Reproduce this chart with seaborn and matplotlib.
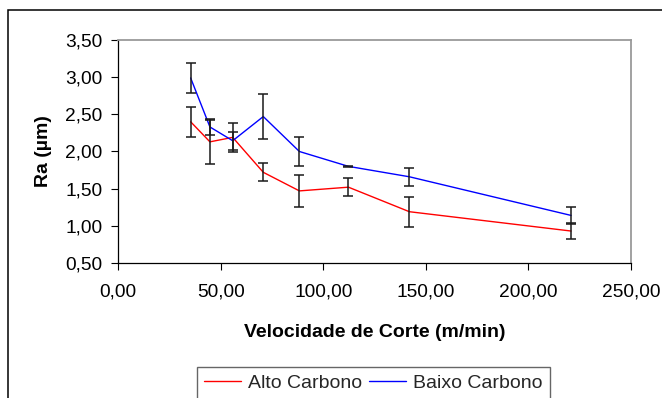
import matplotlib
matplotlib.use("Agg")
import matplotlib.pyplot as plt
from matplotlib.patches import Rectangle
import pandas as pd
import seaborn as sns

# Cutting speed (m/min)
velocidade = [35.4, 44.8, 55.9, 70.8, 88.4, 112.3, 142.0, 220.8]

# Mean roughness Ra (µm) and error half-widths
ra_alto = [2.40, 2.13, 2.19, 1.72, 1.47, 1.52, 1.19, 0.93]
err_alto = [0.20, 0.30, 0.20, 0.12, 0.22, 0.12, 0.20, 0.11]
ra_baixo = [2.99, 2.33, 2.145, 2.47, 2.00, 1.80, 1.66, 1.14]
err_baixo = [0.20, 0.11, 0.12, 0.30, 0.20, 0.01, 0.12, 0.12]

series_names = ["Alto Carbono", "Baixo Carbono"]
series_colors = ["#ff0000", "#0000ff"]

x_ticks = [0, 50, 100, 150, 200, 250]
x_tick_labels = ["0,00", "50,00", "100,00", "150,00", "200,00", "250,00"]
y_ticks = [0.5, 1.0, 1.5, 2.0, 2.5, 3.0, 3.5]
y_tick_labels = ["0,50", "1,00", "1,50", "2,00", "2,50", "3,00", "3,50"]

sns.set_theme(style="white")
plt.rcParams["font.family"] = ["Liberation Sans", "DejaVu Sans"]

df = pd.concat([
    pd.DataFrame({"v": velocidade, "ra": ra_alto, "err": err_alto, "serie": series_names[0]}),
    pd.DataFrame({"v": velocidade, "ra": ra_baixo, "err": err_baixo, "serie": series_names[1]}),
], ignore_index=True)

W, H = 662, 398
fig = plt.figure(figsize=(W / 100, H / 100), dpi=100)
ax = fig.add_axes([118 / W, 1 - 263 / H, (631 - 118) / W, (263 - 40) / H])

sns.lineplot(data=df, x="v", y="ra", hue="serie", palette=series_colors,
             hue_order=series_names, linewidth=1.0, ax=ax, legend=False,
             sort=False, estimator=None)

for name in series_names:
    sub = df[df["serie"] == name]
    ax.errorbar(sub["v"], sub["ra"], yerr=sub["err"], fmt="none",
                ecolor="#1a1a1a", elinewidth=1.1, capsize=3.9, capthick=1.1,
                zorder=5)

ax.set_xlim(0, 250)
ax.set_ylim(0.5, 3.5)
ax.set_xticks(x_ticks)
ax.set_xticklabels(x_tick_labels)
ax.set_yticks(y_ticks)
ax.set_yticklabels(y_tick_labels)

ax.tick_params(axis="both", which="major", direction="out", length=5,
               width=0.8, color="black", labelsize=13.8, labelcolor="black")
ax.tick_params(axis="x", pad=10)
ax.tick_params(axis="y", pad=6)
ax.tick_params(axis="both", bottom=True, left=True)

for side in ("left", "bottom"):
    ax.spines[side].set_color("black")
    ax.spines[side].set_linewidth(0.9)
for side in ("top", "right"):
    ax.spines[side].set_color("#9a9a9a")
    ax.spines[side].set_linewidth(1.3)

ax.set_xlabel("Velocidade de Corte (m/min)", fontsize=14, fontweight="bold",
              labelpad=17, color="black")
ax.set_ylabel("Ra (µm)", fontsize=14, fontweight="bold", labelpad=10,
              color="black")

handles = [plt.Line2D([], [], color=c, linewidth=1.0) for c in series_colors]
fig.legend(handles, series_names, loc="center",
           bbox_to_anchor=(373.5 / W, 1 - 383 / H), ncol=2, fontsize=14,
           frameon=True, fancybox=False, edgecolor="#404040",
           handlelength=1.9, handletextpad=0.37, columnspacing=0.36,
           borderpad=0.36, borderaxespad=0)
leg = fig.legends[0]
leg.get_frame().set_linewidth(1.0)

# outer chart frame
fig.add_artist(Rectangle((8 / W, -0.2), 2.0, 1.2 - 10 / H,
                         transform=fig.transFigure, fill=False,
                         edgecolor="black", linewidth=1.1))

fig.savefig("out.png", dpi=100)
